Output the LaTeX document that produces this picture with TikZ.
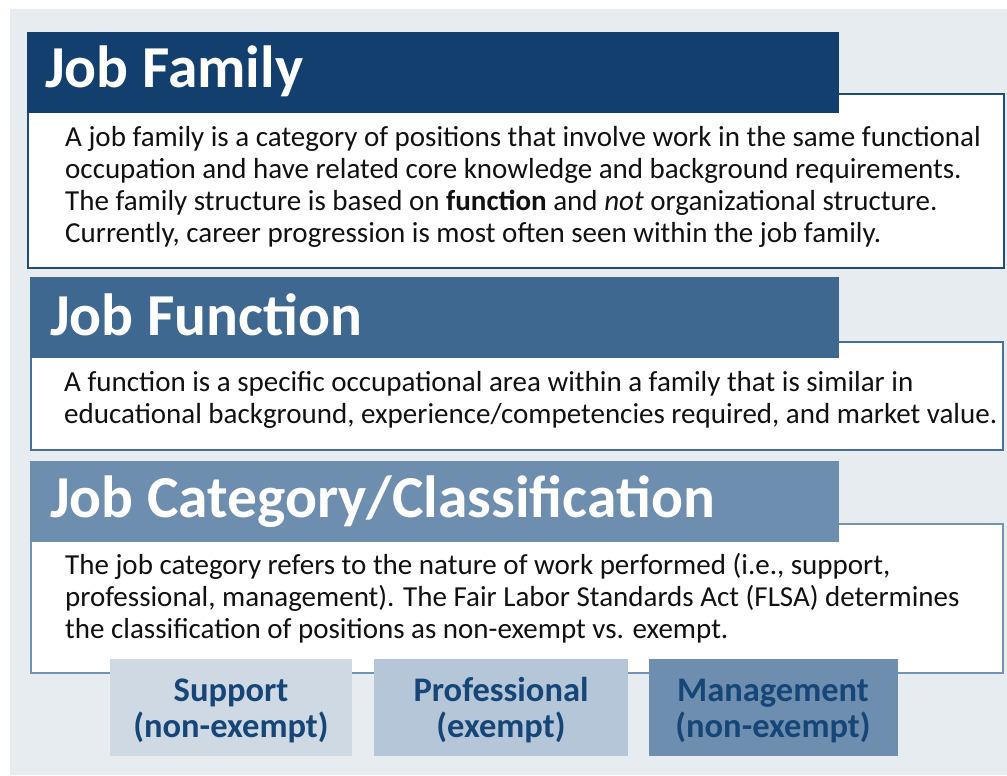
\documentclass[tikz,border=0pt]{standalone}
\usepackage{fontspec}
\setmainfont{Carlito}
\definecolor{bgc}{HTML}{E7ECF1}
\definecolor{hdA}{HTML}{123F6E}
\definecolor{hdB}{HTML}{3E6890}
\definecolor{hdC}{HTML}{6E8EAF}
\definecolor{bdA}{HTML}{1E4B7A}
\definecolor{bdB}{HTML}{48719A}
\definecolor{bdC}{HTML}{7393B3}
\definecolor{catA}{HTML}{CFD9E4}
\definecolor{catB}{HTML}{B5C6D8}
\definecolor{catC}{HTML}{6E8EAF}
\definecolor{catT}{HTML}{164677}
\definecolor{bodyT}{HTML}{111111}
\tikzset{
  panel/.style={fill=white,line width=2pt,anchor=north west,inner sep=0pt},
  header/.style={anchor=north west,inner sep=0pt,minimum height=81pt},
  headtext/.style={anchor=base west,inner sep=0pt,text=white,font=\fontsize{59.5}{64}\selectfont\bfseries},
  bodyline/.style={anchor=base west,inner sep=0pt,text=bodyT,font=\fontsize{29}{32}\selectfont},
  catbox/.style={anchor=north west,inner sep=0pt,minimum height=97pt},
  cattext/.style={anchor=base,inner sep=0pt,text=catT,font=\fontsize{34.5}{36}\selectfont\bfseries}
}
\begin{document}
\begin{tikzpicture}[x=1pt,y=-1pt]
\useasboundingbox (0,0) rectangle (1007,776);
\fill[bgc] (10,9) rectangle (1007,775);
% Job Family
\node[panel,draw=bdA,minimum width=976pt,minimum height=174pt] (boxA) at (27,93) {};
\node[header,fill=hdA,minimum width=812pt] (hdrA) at (27,32) {};
\node[headtext] (ttlA) at (45,88) {Job Family};
\node[bodyline] (lA1) at (65,146) {A job family is a category of positions that involve work in the same functional};
\node[bodyline] (lA2) at (65,178) {occupation and have related core knowledge and background requirements.};
\node[bodyline] (lA3) at (65,210) {The family structure is based on \textbf{function} and \textit{not} organizational structure.};
\node[bodyline] (lA4) at (65,242) {Currently, career progression is most often seen within the job family.};
% Job Function
\node[panel,draw=bdB,minimum width=972pt,minimum height=108pt] (boxB) at (30,341) {};
\node[header,fill=hdB,minimum width=809pt] (hdrB) at (30,277) {};
\node[headtext] (ttlB) at (50,335) {Job Function};
\node[bodyline] (lB1) at (64,391) {A function is a specific occupational area within a family that is similar in};
\node[bodyline] (lB2) at (64,423) {educational background, experience/competencies required, and market value.};
% Job Category
\node[panel,draw=bdC,minimum width=972pt,minimum height=149pt] (boxC) at (30,523) {};
\node[header,fill=hdC,minimum width=809pt] (hdrC) at (30,461) {};
\node[headtext] (ttlC) at (50,517) {Job Category/Classification};
\node[bodyline] (lC1) at (65,574) {The job category refers to the nature of work performed (i.e., support,};
\node[bodyline] (lC2) at (65,606) {professional, management). The Fair Labor Standards Act (FLSA) determines};
\node[bodyline] (lC3) at (65,638) {the classification of positions as non-exempt vs. exempt.};
% categories
\node[catbox,fill=catA,minimum width=242pt] (catS) at (110,659) {};
\node[catbox,fill=catB,minimum width=254pt] (catP) at (374,659) {};
\node[catbox,fill=catC,minimum width=249pt] (catM) at (649,659) {};
\node[cattext] (tS1) at (231,701) {Support};
\node[cattext] (tS2) at (231,737) {(non-exempt)};
\node[cattext] (tP1) at (501,701) {Professional};
\node[cattext] (tP2) at (501,737) {(exempt)};
\node[cattext] (tM1) at (773,701) {Management};
\node[cattext] (tM2) at (773,737) {(non-exempt)};
\end{tikzpicture}
\end{document}
